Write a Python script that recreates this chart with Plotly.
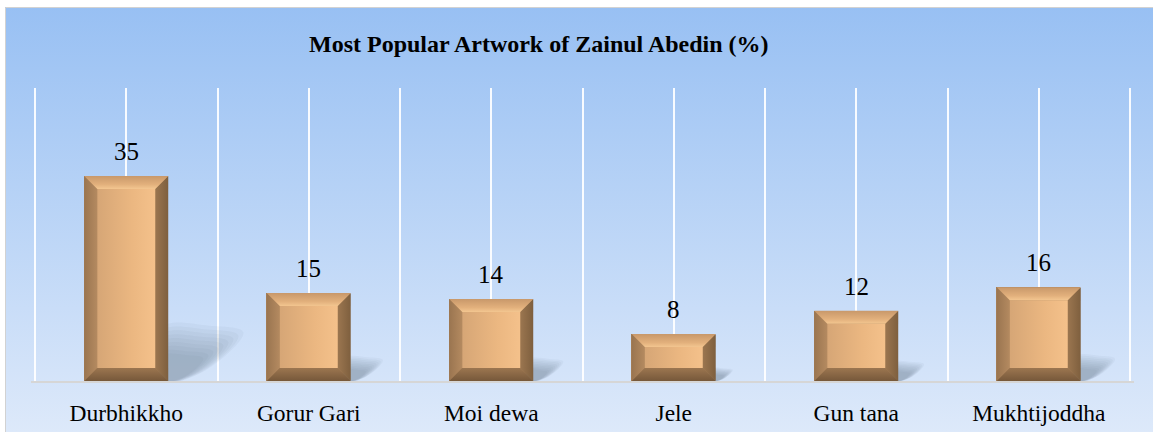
import plotly.graph_objects as go

# ---------------- data ----------------
categories = ["Durbhikkho", "Gorur Gari", "Moi dewa", "Jele", "Gun tana", "Mukhtijoddha"]
values = [35, 15, 14, 8, 12, 16]
title_text = "Most Popular Artwork of Zainul Abedin (%)"
y_max = 50

# ---------------- geometry / style ----------------
W, H = 1153, 432
PLOT_L, PLOT_R = 35, 1130          # pixel positions of category edges
PLOT_T, PLOT_B = 88, 381           # pixel positions of y_max and 0
PAD = 0.02                          # tiny range padding so edge gridlines show
n = len(categories)
px_per_x = (PLOT_R - PLOT_L) / n
px_per_y = (PLOT_B - PLOT_T) / y_max
dom_l = (PLOT_L - PAD * px_per_x) / W
dom_r = (PLOT_R + PAD * px_per_x) / W
BAR_W = 0.46
BEVEL_PX = 13
dx = BEVEL_PX / px_per_x
dy = BEVEL_PX / px_per_y
FONT = "Liberation Serif"

fig = go.Figure()

# background gradient panel (pixel coordinate helper axes)
fig.add_trace(go.Scatter(
    x=[5, W, W, 5, 5], y=[0, 0, H - 7, H - 7, 0], fill="toself", mode="none",
    fillgradient=dict(type="vertical", colorscale=[[0, "#dde9fa"], [1, "#98c0f3"]]),
    hoverinfo="skip", showlegend=False, xaxis="x", yaxis="y"))
fig.add_trace(go.Scatter(
    x=[5.5, 5.5, W], y=[0, H - 7.5, H - 7.5], mode="lines",
    line=dict(color="#d2d2d2", width=1), hoverinfo="skip", showlegend=False,
    xaxis="x", yaxis="y"))

xs = list(range(n))

# soft shadows (blurred wedge to lower right, scaled by value)
for i, v in zip(xs, values):
    R = i + BAR_W / 2
    length = 0.0098 * v
    h = 0.22 * v
    for k in range(9):
        s = 1.2 - k * 0.08
        fig.add_trace(go.Scatter(
            x=[R - 0.03, R - 0.03, R + length * s * 0.55, R + length * s, R + length * s * 0.5, R - 0.03],
            y=[0, h * s, h * s * 1.02, h * s * 0.9, h * s * 0.2, 0],
            line=dict(shape="spline", smoothing=1.0, width=0),
            fill="toself", mode="lines", fillcolor="rgba(85,105,135,0.055)",
            hoverinfo="skip", showlegend=False, xaxis="x2", yaxis="y2"))

# main bars (side-face colour)
fig.add_trace(go.Bar(
    x=xs, y=values, width=BAR_W, marker=dict(color="#a67e56", line=dict(width=0)),
    hoverinfo="skip", showlegend=False, xaxis="x2", yaxis="y2"))


def face(px, py, color=None, grad=None):
    kw = dict(x=px + [px[0]], y=py + [py[0]], fill="toself", mode="none",
              hoverinfo="skip", showlegend=False, xaxis="x2", yaxis="y2")
    if grad:
        kw["fillgradient"] = grad
    else:
        kw["fillcolor"] = color
    fig.add_trace(go.Scatter(**kw))


for i, v in zip(xs, values):
    L, R, T, B = i - BAR_W / 2, i + BAR_W / 2, v, 0
    # right face
    face([R, R, R - dx, R - dx], [B, T, T - dy, B + dy],
         grad=dict(type="horizontal", colorscale=[[0, "#9b7650"], [1, "#7e5f3e"]]))
    # left face
    face([L, L, L + dx, L + dx], [B, T, T - dy, B + dy],
         grad=dict(type="horizontal", colorscale=[[0, "#9a7550"], [1, "#b48a60"]]))
    # front face
    face([L + dx, R - dx, R - dx, L + dx], [B + dy, B + dy, T - dy, T - dy],
         grad=dict(type="horizontal", colorscale=[[0, "#d6a676"], [0.6, "#ebb781"], [1, "#f4c18b"]]))
    # top face
    face([L, R, R - dx, L + dx], [T, T, T - dy, T - dy],
         grad=dict(type="vertical", colorscale=[[0, "#f3c690"], [0.35, "#e2b07c"], [1, "#c8986a"]]))
    # bottom face
    face([L, R, R - dx, L + dx], [B, B, B + dy, B + dy],
         grad=dict(type="vertical", colorscale=[[0, "#76583a"], [1, "#9c7650"]]))

annotations = []
for i, v in zip(xs, values):
    annotations.append(dict(
        x=i, y=v, xref="x2", yref="y2", text=str(v), showarrow=False,
        yanchor="bottom", yshift=9, font=dict(family=FONT, size=25, color="#000000")))
annotations.append(dict(
    x=538.5 / W, y=1 - 44 / H, xref="paper", yref="paper", text=f"<b>{title_text}</b>",
    showarrow=False, xanchor="center", yanchor="middle",
    font=dict(family=FONT, size=24, color="#000000")))

grid_col = "rgba(255,255,255,0.92)"
fig.update_layout(
    width=W, height=H,
    margin=dict(l=0, r=0, t=0, b=0),
    paper_bgcolor="#ffffff", plot_bgcolor="rgba(0,0,0,0)",
    showlegend=False, bargap=0,
    font=dict(family=FONT),
    xaxis=dict(domain=[0, 1], range=[0, W], visible=False, fixedrange=True),
    yaxis=dict(domain=[0, 1], range=[0, H], visible=False, fixedrange=True),
    xaxis2=dict(
        domain=[dom_l, dom_r], anchor="y2", range=[-0.5 - PAD, n - 0.5 + PAD],
        tickmode="array", tickvals=xs, ticktext=categories,
        showgrid=True, gridcolor=grid_col, gridwidth=2,
        minor=dict(tickmode="array", tickvals=[k - 0.5 for k in range(n + 1)],
                   showgrid=True, gridcolor=grid_col, gridwidth=2, ticks=""),
        showline=True, linecolor="#d6d6d6", linewidth=2,
        ticks="", ticklabelstandoff=10, zeroline=False,
        tickfont=dict(family=FONT, size=23.5, color="#000000"), fixedrange=True),
    yaxis2=dict(
        domain=[1 - PLOT_B / H, 1 - PLOT_T / H], anchor="x2", range=[0, y_max],
        visible=False, showgrid=False, zeroline=False, fixedrange=True),
    annotations=annotations,
)

fig.write_html(
    "out.html",
    config={"displayModeBar": False},
    post_script="document.body.style.margin='0';document.body.style.overflow='hidden';",
)
